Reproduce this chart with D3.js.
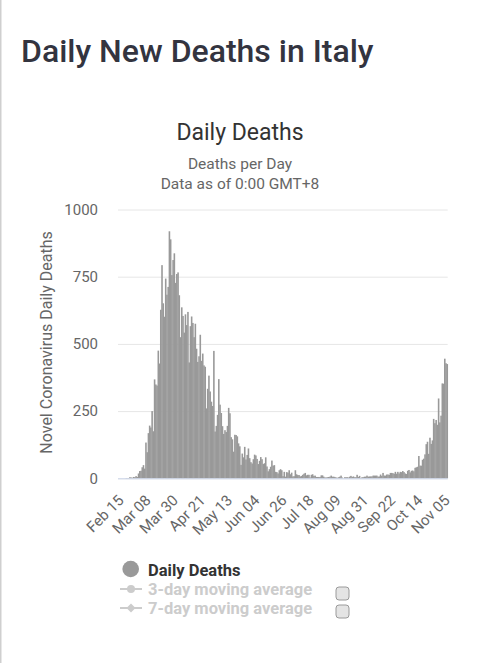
<!DOCTYPE html>
<html>
<head>
<meta charset="utf-8">
<script src="https://cdn.jsdelivr.net/npm/d3@7"></script>
<style>
  html, body { margin: 0; padding: 0; background: #fff; }
  svg { display: block; font-family: Roboto, "Noto Sans", sans-serif; }
</style>
</head>
<body>
<svg id="chart" width="480" height="663"></svg>
<script>
// ---- Data (Italy, daily new deaths, Feb 15 – Nov 7, 2020) ----
const startDate = "2020-02-15";
const endDate = "2020-11-07";
const febDeaths = [0,0,0,0,0,0,1,1,1,4,3,2,5,4,8];
const marDeaths = [5,18,27,28,41,49,36,133,97,168,196,189,250,175,368,349,345,475,427,627,793,651,601,743,683,712,919,889,756,812,837];
const aprDeaths = [727,760,766,681,525,636,604,542,610,570,619,431,566,602,578,525,575,482,433,454,534,437,464,420,415,260,333,382,323,285];
const mayDeaths = [269,474,174,195,236,369,274,243,194,165,179,172,195,262,242,153,145,99,162,161,156,130,119,50,92,78,117,70,87,111,75];
const junDeaths = [60,55,71,88,85,72,53,65,79,71,53,56,78,44,26,34,43,66,47,49,24,23,18,30,34,30,8,24,6,23];
const julDeaths = [21,30,15,21,7,8,30,15,12,12,7,9,13,17,20,11,13,13,3,13,15,9,10,5,5,5,5,11,11,6,3];
const augDeaths = [3,4,5,6,10,6,6,5,3,2,4,6,10,3,0,4,4,4,3,6,9,5,7,4,4,13,5,9,1,4,4];
const sepDeaths = [6,6,10,6,7,7,7,10,10,10,10,6,7,14,9,20,10,10,14,14,13,20,20,19,17,24,17,24,18,24];
const octDeaths = [23,27,23,18,16,28,31,22,28,29,26,39,41,43,83,47,47,69,73,89,127,136,91,151,128,141,221,205,217,199,297];
const novDeaths = [208,233,353,352,445,428,425];
const yTicks = [0, 250, 500, 750, 1000];
const xTickLabels = ["Feb 15","Mar 08","Mar 30","Apr 21","May 13","Jun 04","Jun 26","Jul 18","Aug 09","Aug 31","Sep 22","Oct 14","Nov 05"];
const legendItems = ["Daily Deaths", "3-day moving average", "7-day moving average"];

const deaths = [].concat(febDeaths, marDeaths, aprDeaths, mayDeaths, junDeaths, julDeaths, augDeaths, sepDeaths, octDeaths, novDeaths);
const parse = d3.utcParse("%Y-%m-%d");
const categories = d3.utcDays(parse(startDate), d3.utcDay.offset(parse(endDate), 1)).map(d3.utcFormat("%b %d"));
const data = categories.map((c, i) => ({ cat: c, value: deaths[i] }));

// ---- Layout ----
const svg = d3.select("#chart");
const plot = { left: 118, right: 447.7, top: 209.5, bottom: 478.3 };

// left page border
svg.append("rect").attr("x", 0).attr("y", 0).attr("width", 1.5).attr("height", 663).attr("fill", "#cfcfcf");

// Page title
svg.append("text").attr("x", 21).attr("y", 62)
  .attr("font-size", 32).attr("font-weight", 500).attr("fill", "#33343f")
  .text("Daily New Deaths in Italy");

// Chart title / subtitle
svg.append("text").attr("x", 240).attr("y", 140).attr("text-anchor", "middle")
  .attr("font-size", 23).attr("fill", "#333333").text("Daily Deaths");
svg.append("text").attr("x", 240).attr("y", 168.5).attr("text-anchor", "middle")
  .attr("font-size", 15.5).attr("fill", "#666666").text("Deaths per Day");
svg.append("text").attr("x", 240).attr("y", 188.5).attr("text-anchor", "middle")
  .attr("font-size", 15.5).attr("fill", "#666666").text("Data as of 0:00 GMT+8");

// Scales
const x = d3.scaleBand().domain(categories).range([plot.left, plot.right]).padding(0);
const y = d3.scaleLinear().domain([0, 1000]).range([plot.bottom, plot.top]);

// Gridlines + y labels
const yAxis = d3.axisLeft(y).tickValues(yTicks).tickFormat(d3.format("d"))
  .tickSize(-(plot.right - plot.left)).tickPadding(20);
const gy = svg.append("g").attr("transform", `translate(${plot.left},0)`).call(yAxis);
gy.select(".domain").remove();
gy.selectAll(".tick line").attr("stroke", "#e6e6e6");
gy.selectAll(".tick text").attr("font-size", 15).attr("fill", "#666666")
  .attr("font-family", "Roboto, sans-serif").attr("x", -20);

// Y axis title
svg.append("text").attr("transform", `translate(52,342.5) rotate(-90)`)
  .attr("text-anchor", "middle").attr("font-size", 16).attr("fill", "#666666")
  .text("Novel Coronavirus Daily Deaths");

// Bars
svg.append("g").selectAll("rect").data(data).join("rect")
  .attr("x", d => x(d.cat))
  .attr("width", x.bandwidth() + 0.35)
  .attr("y", d => y(d.value))
  .attr("height", d => y(0) - y(d.value))
  .attr("fill", "#999999");

// X axis
const xAxis = d3.axisBottom(x).tickValues(xTickLabels).tickSize(0).tickPadding(0);
const gx = svg.append("g").attr("transform", `translate(0,${plot.bottom})`).call(xAxis);
gx.select(".domain").attr("stroke", "#ccd6eb").attr("d", `M${plot.left},0.5H${plot.right}`);
gx.selectAll(".tick text")
  .attr("font-size", 15).attr("fill", "#666666").attr("font-family", "Roboto, sans-serif")
  .attr("text-anchor", "end").attr("dy", 0).attr("y", 0)
  .attr("transform", "translate(6,23) rotate(-45)");

// Legend
const lg = svg.append("g");
const ly = [569, 589, 608];
lg.append("circle").attr("cx", 130.7).attr("cy", ly[0]).attr("r", 8.3).attr("fill", "#999999");
lg.append("text").attr("x", 148).attr("y", ly[0] + 6.5).attr("font-size", 16.5).attr("font-weight", 700)
  .attr("fill", "#333333").text(legendItems[0]);
// 3-day
lg.append("line").attr("x1", 120).attr("x2", 142).attr("y1", ly[1]).attr("y2", ly[1]).attr("stroke", "#cccccc").attr("stroke-width", 2);
lg.append("circle").attr("cx", 131).attr("cy", ly[1]).attr("r", 4).attr("fill", "#cccccc");
lg.append("text").attr("x", 148).attr("y", ly[1] + 6).attr("font-size", 16.5).attr("font-weight", 700)
  .attr("fill", "#cccccc").text(legendItems[1]);
// 7-day
lg.append("line").attr("x1", 120).attr("x2", 142).attr("y1", ly[2]).attr("y2", ly[2]).attr("stroke", "#cccccc").attr("stroke-width", 2);
lg.append("path").attr("d", `M131,${ly[2]-4.5}L135.5,${ly[2]}L131,${ly[2]+4.5}L126.5,${ly[2]}Z`).attr("fill", "#cccccc");
lg.append("text").attr("x", 148).attr("y", ly[2] + 6).attr("font-size", 16.5).attr("font-weight", 700)
  .attr("fill", "#cccccc").text(legendItems[2]);
// checkboxes
[587, 605].forEach(cy => {
  lg.append("rect").attr("x", 336).attr("y", cy).attr("width", 13).attr("height", 13)
    .attr("rx", 3).attr("fill", "#e4e4e4").attr("stroke", "#9a9a9a").attr("stroke-width", 1);
});
</script>
</body>
</html>
